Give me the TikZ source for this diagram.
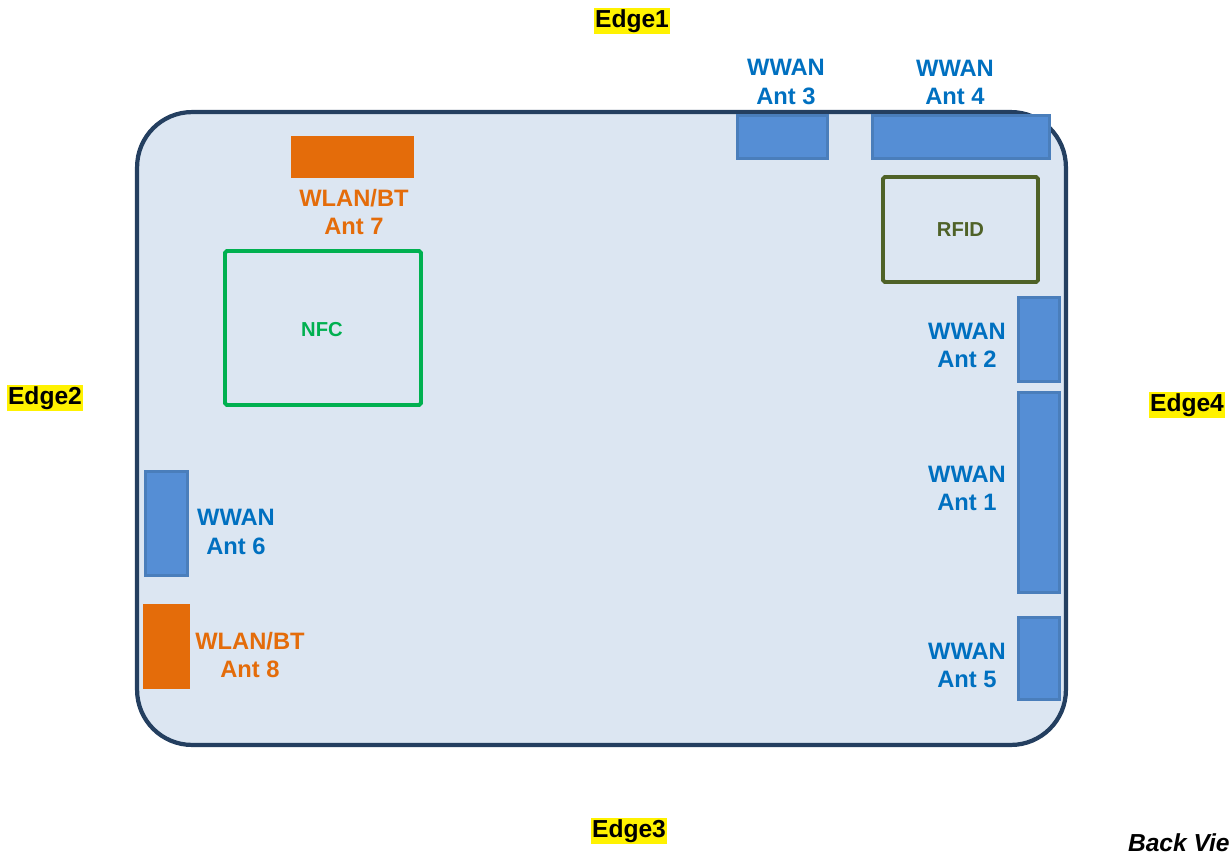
\documentclass[tikz,border=0pt]{standalone}
\usepackage{fontspec}
\setmainfont{Liberation Sans}
\usetikzlibrary{positioning}

\definecolor{boardfill}{HTML}{DCE6F2}
\definecolor{boardline}{HTML}{243F60}
\definecolor{antfill}{HTML}{558ED5}
\definecolor{antline}{HTML}{4A7EBB}
\definecolor{wlanorange}{HTML}{E46C0A}
\definecolor{nfcgreen}{HTML}{00B050}
\definecolor{rfidolive}{HTML}{4F6228}
\definecolor{lblblue}{HTML}{0070C0}

\begin{document}
\begin{tikzpicture}[
  x=0.02cm, y=-0.02cm,
  font=\bfseries\fontsize{13.5}{16}\selectfont,
  board/.style={draw=boardline,fill=boardfill,line width=2.4pt,rounded corners=1.1cm,
                minimum width=18.58cm,minimum height=12.66cm,inner sep=0pt},
  wwan/.style ={draw=antline,fill=antfill,line width=1.6pt,inner sep=0pt},
  wlan/.style ={fill=wlanorange,inner sep=0pt},
  tagbox/.style={draw,line width=2.2pt,rounded corners=1pt,inner sep=0pt},
  lbl/.style  ={align=center,inner sep=0pt,text=lblblue},
  olbl/.style ={align=center,inner sep=0pt,text=wlanorange},
  edge/.style ={fill=yellow,inner xsep=0.5pt,inner ysep=0pt,text height=10.8pt,text depth=3.6pt,
                font=\bfseries\fontsize{14}{16}\selectfont},
]
\useasboundingbox (0,0) rectangle (1231,853);

%% =============================================
%% Device outline
%% =============================================
\node[board] (dev) at (601.5,428.5) {};

%% =============================================
%% Top edge antennas
%% =============================================
\node[wwan,minimum width=1.80cm,minimum height=0.86cm] (ant3) at (782.5,137) {};
\node[wwan,minimum width=3.54cm,minimum height=0.86cm] (ant4) at (961,137) {};
\node[lbl] (lbl3) at (786,82) {WWAN\\Ant 3};
\node[lbl] (lbl4) at (955,82) {WWAN\\Ant 4};

\node[wlan,minimum width=2.46cm,minimum height=0.84cm] (ant7) at (352.5,157) {};
\node[olbl] (lbl7) at (354,212) {WLAN/BT\\Ant 7};

%% =============================================
%% Tags
%% =============================================
\node[tagbox,draw=rfidolive,minimum width=3.10cm,minimum height=2.10cm,
      text=rfidolive,font=\bfseries\fontsize{11.5}{14}\selectfont] (rfid) at (960.5,229.5) {RFID};
\node[tagbox,draw=nfcgreen,minimum width=3.92cm,minimum height=3.08cm] (nfc) at (323,328) {};
\node[text=nfcgreen,font=\bfseries\fontsize{11.5}{14}\selectfont] (nfclbl) at (322,330) {NFC};

%% =============================================
%% Right edge antennas
%% =============================================
\node[wwan,minimum width=0.82cm,minimum height=1.68cm] (ant2) at (1039,339.5) {};
\node[wwan,minimum width=0.82cm,minimum height=4.00cm] (ant1) at (1039,492.5) {};
\node[wwan,minimum width=0.82cm,minimum height=1.64cm] (ant5) at (1039,658.5) {};
\node[lbl] (lbl2) at (967,345) {WWAN\\Ant 2};
\node[lbl] (lbl1) at (967,488) {WWAN\\Ant 1};
\node[lbl] (lbl5) at (967,665) {WWAN\\Ant 5};

%% =============================================
%% Left edge antennas
%% =============================================
\node[wwan,minimum width=0.84cm,minimum height=2.08cm] (ant6) at (166.5,523.5) {};
\node[wlan,minimum width=0.94cm,minimum height=1.70cm] (ant8) at (166.5,646.5) {};
\node[lbl] (lbl6) at (236,532) {WWAN\\Ant 6};
\node[olbl] (lbl8) at (250,655) {WLAN/BT\\Ant 8};

%% =============================================
%% Edge markers
%% =============================================
\node[edge] (edge1) at (632,21) {Edge1};
\node[edge] (edge2) at (45,398) {Edge2};
\node[edge] (edge3) at (629,831) {Edge3};
\node[edge] (edge4) at (1187,405) {Edge4};

\node[anchor=east,inner sep=0pt,font=\bfseries\itshape\fontsize{14}{16}\selectfont] (view) at (1230,843) {Back Vie};

\end{tikzpicture}
\end{document}
